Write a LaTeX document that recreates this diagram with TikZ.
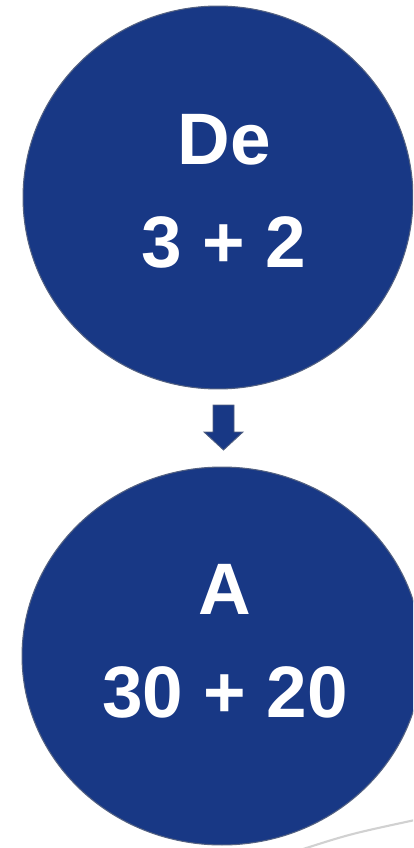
\documentclass[tikz,border=0pt]{standalone}
\usepackage{fontspec}
\setmainfont{Liberation Sans}
\usepackage{tikz}
\usetikzlibrary{shapes.geometric}
\definecolor{navy1}{RGB}{24,56,133}
\definecolor{rim1}{RGB}{84,98,130}
\tikzstyle{disc}=[ellipse, draw=rim1, fill=navy1, line width=0.6pt, inner sep=0pt]
\tikzstyle{txt}=[text=white, align=center, inner sep=0pt, font=\bfseries\fontsize{41.5pt}{58.6pt}\selectfont]

\begin{document}
\begin{tikzpicture}[x=0.02cm,y=-0.02cm]
		    \clip (0,0) rectangle (413,848);
		    \node [disc, minimum width=7.8cm, minimum height=7.66cm] (de) at (218,197.5) {};
		    \node [disc, minimum width=8.0cm, minimum height=7.56cm] (a) at (222,656) {};
		    \node [txt] (detxt) at (224,191.5) {De\\3 + 2};
		    \node [txt] (atxt) at (225,641) {A\\30 + 20};
		    % down arrow between the two discs
		    \coordinate (arr) at (223.5,405);
		    \filldraw [fill=navy1, draw=rim1, line width=0.5pt]
		    (arr) ++(-10.5,0) -- ++(21,0) -- ++(0,27) -- ++(9,0) -- ++(-19.5,18) -- ++(-19.5,-18) -- ++(9,0) -- cycle;
		    \draw [black!18, line width=1.2pt] (300,850) .. controls (350,834) .. (415,820);
\end{tikzpicture}
\end{document}
